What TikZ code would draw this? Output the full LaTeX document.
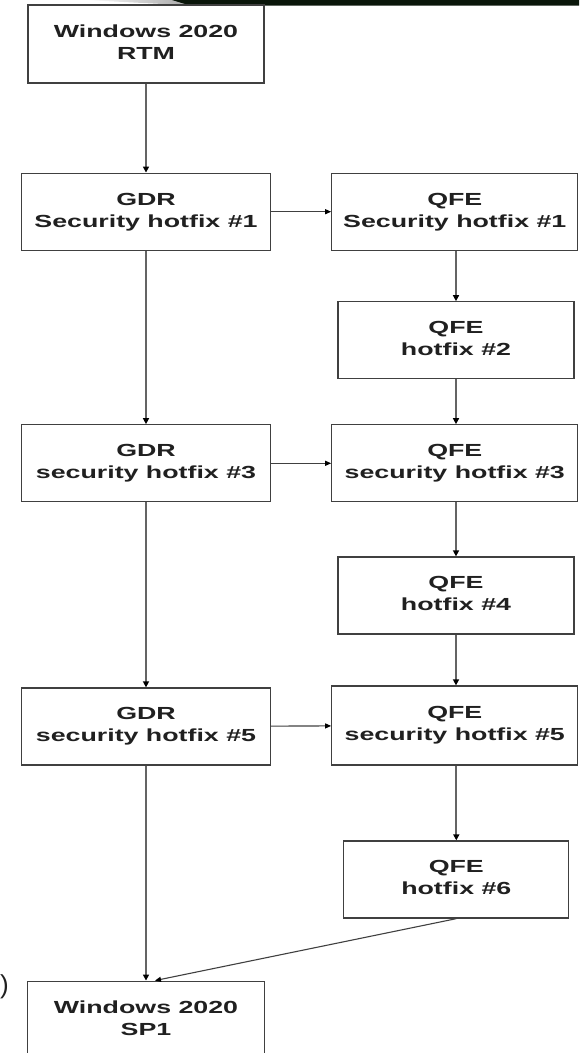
\documentclass[tikz,border=0pt]{standalone}
\usepackage{fontspec}
\usepackage{graphicx}
\setmainfont{Liberation Sans}
\usetikzlibrary{arrows.meta}
\definecolor{boxgray}{HTML}{404040}
\definecolor{linegray}{HTML}{646464}
\definecolor{txtgray}{HTML}{202020}
\definecolor{barcol}{HTML}{0A160A}
\newcommand{\lbl}[2]{\scalebox{1.53}[1]{\begin{tabular}{@{}c@{}}#1\\#2\end{tabular}}}
\begin{document}
\begin{tikzpicture}[x=1pt,y=-1pt,
  box/.style={draw=boxgray,line width=1.3pt,fill=white,inner sep=0pt,
    minimum height=77pt,text=txtgray,
    font=\fontsize{17.5}{22}\selectfont\bfseries},
  down/.style={draw=linegray,line width=2pt,-{Triangle[length=6pt,width=6pt,color=black]}},
  across/.style={draw=boxgray,line width=1.1pt,-{Triangle[length=6pt,width=5pt,color=black]}}]
\useasboundingbox (0,0) rectangle (579,1053);
\clip (0,0) rectangle (579,1053);
\shade[left color=white,right color=gray!70] (85,0)--(180,0)--(192,5.5)--cycle;
\fill[barcol] (172,0)--(579,0)--(579,5.5)--(190,5.5)--cycle;
\node[anchor=west,inner sep=0pt,text=txtgray,font=\fontsize{26}{26}\selectfont] (paren) at (0,987) {)};

\node[box,minimum width=236pt,minimum height=78pt] (rtm) at (146,44) {\lbl{Windows 2020}{RTM}};
\node[box,minimum width=249pt] (gdr1) at (146,211.7) {\lbl{GDR}{Security hotfix \#1}};
\node[box,minimum width=246pt] (qfe1) at (454.8,211.7) {\lbl{QFE}{Security hotfix \#1}};
\node[box,minimum width=236pt] (qfe2) at (456,340.3) {\lbl{QFE}{hotfix \#2}};
\node[box,minimum width=249pt] (gdr3) at (146,463.3) {\lbl{GDR}{security hotfix \#3}};
\node[box,minimum width=246pt] (qfe3) at (454.8,463.3) {\lbl{QFE}{security hotfix \#3}};
\node[box,minimum width=236pt] (qfe4) at (456,595.5) {\lbl{QFE}{hotfix \#4}};
\node[box,minimum width=249pt] (gdr5) at (146,726.5) {\lbl{GDR}{security hotfix \#5}};
\node[box,minimum width=246pt,minimum height=79pt] (qfe5) at (454.8,725.5) {\lbl{QFE}{security hotfix \#5}};
\node[box,minimum width=225pt] (qfe6) at (456.3,879.5) {\lbl{QFE}{hotfix \#6}};
\node[box,minimum width=237pt] (sp1) at (146,1019.7) {\lbl{Windows 2020}{SP1}};

\draw[down] (rtm) -- (gdr1);
\draw[down] (gdr1) -- (gdr3);
\draw[down] (gdr3) -- (gdr5);
\draw[down] (gdr5) -- (sp1);
\draw[down] (qfe1.south -| qfe2.north) -- (qfe2.north);
\draw[down] (qfe2.south) -- (qfe3.north -| qfe2.south);
\draw[down] (qfe3.south -| qfe4.north) -- (qfe4.north);
\draw[down] (qfe4.south) -- (qfe5.north -| qfe4.south);
\draw[down] (qfe5.south -| qfe6.north) -- (qfe6.north);
\draw[across] (gdr1) -- (qfe1);
\draw[across] (gdr3) -- (qfe3);
\draw[across] (gdr5) -- (qfe5);
\draw[across] (qfe6.south) -- ([xshift=9pt]sp1.north);
\end{tikzpicture}
\end{document}
